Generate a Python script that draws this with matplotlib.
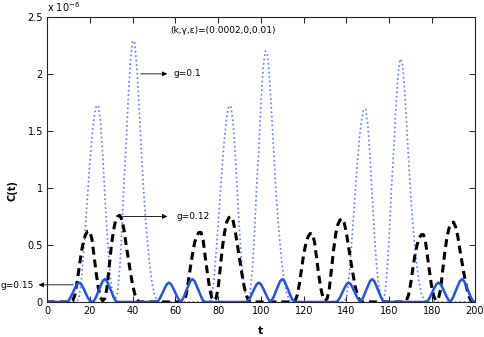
import numpy as np
import matplotlib
matplotlib.use('Agg')
import matplotlib.pyplot as plt

# sample times (t = 0..200, step 1)
t = np.arange(0, 201)

# C(t) in units of 1e-6
c_g010 = [
    0, 0, 0, 0, 0, 0, 0, 0, 0, 0,
    0, 0, 0, 0, 0.00, 0.04, 0.18, 0.42, 0.68, 0.95,
    1.22, 1.45, 1.62, 1.72, 1.72, 1.58, 1.30, 0.95, 0.62, 0.34,
    0.15, 0.05, 0.03, 0.08, 0.30, 0.62, 1.06, 1.40, 1.80, 2.12,
    2.29, 2.27, 2.05, 1.72, 1.36, 1.02, 0.74, 0.52, 0.32, 0.18,
    0.08, 0.03, 0.00, 0, 0, 0, 0, 0, 0, 0,
    0, 0, 0, 0, 0, 0, 0, 0, 0, 0,
    0, 0, 0, 0, 0, 0, 0.00, 0.04, 0.18, 0.42,
    0.68, 0.95, 1.22, 1.45, 1.62, 1.72, 1.71, 1.57, 1.30, 0.95,
    0.62, 0.34, 0.15, 0.05, 0.03, 0.08, 0.29, 0.60, 1.02, 1.34,
    1.73, 2.04, 2.20, 2.18, 1.97, 1.65, 1.31, 0.98, 0.71, 0.50,
    0.31, 0.17, 0.08, 0.03, 0.00, 0, 0, 0, 0, 0,
    0, 0, 0, 0, 0, 0, 0, 0, 0, 0,
    0, 0, 0, 0, 0, 0, 0, 0, 0, 0.00,
    0.04, 0.18, 0.41, 0.67, 0.93, 1.20, 1.43, 1.59, 1.69, 1.69,
    1.55, 1.28, 0.93, 0.61, 0.33, 0.15, 0.05, 0.03, 0.07, 0.28,
    0.58, 0.99, 1.30, 1.67, 1.97, 2.13, 2.11, 1.91, 1.60, 1.26,
    0.95, 0.69, 0.48, 0.30, 0.17, 0.07, 0.03, 0.00, 0, 0,
    0, 0, 0, 0, 0, 0, 0, 0, 0, 0,
    0, 0, 0, 0, 0, 0, 0, 0, 0, 0,
    0,
]

c_g012 = [
    0, 0, 0, 0, 0, 0, 0, 0, 0, 0,
    0, 0.00, 0.01, 0.06, 0.17, 0.30, 0.43, 0.53, 0.59, 0.62,
    0.62, 0.55, 0.40, 0.25, 0.12, 0.04, 0.01, 0.03, 0.12, 0.30,
    0.48, 0.62, 0.71, 0.75, 0.76, 0.72, 0.63, 0.50, 0.38, 0.26,
    0.15, 0.07, 0.02, 0.00, 0, 0, 0, 0, 0, 0,
    0, 0, 0, 0, 0, 0, 0, 0, 0, 0,
    0, 0, 0, 0.00, 0.01, 0.06, 0.17, 0.30, 0.42, 0.52,
    0.58, 0.61, 0.61, 0.54, 0.39, 0.25, 0.12, 0.04, 0.01, 0.03,
    0.12, 0.30, 0.48, 0.61, 0.70, 0.74, 0.75, 0.71, 0.62, 0.50,
    0.38, 0.26, 0.15, 0.07, 0.02, 0.00, 0, 0, 0, 0,
    0, 0, 0, 0, 0, 0, 0, 0, 0, 0,
    0, 0, 0, 0, 0, 0.00, 0.01, 0.06, 0.16, 0.29,
    0.42, 0.51, 0.57, 0.60, 0.60, 0.53, 0.39, 0.24, 0.12, 0.04,
    0.01, 0.03, 0.12, 0.29, 0.46, 0.60, 0.68, 0.72, 0.73, 0.69,
    0.60, 0.48, 0.36, 0.25, 0.14, 0.07, 0.02, 0.00, 0, 0,
    0, 0, 0, 0, 0, 0, 0, 0, 0, 0,
    0, 0, 0, 0, 0, 0, 0, 0.00, 0.01, 0.06,
    0.16, 0.29, 0.41, 0.50, 0.56, 0.59, 0.59, 0.52, 0.38, 0.24,
    0.11, 0.04, 0.01, 0.03, 0.11, 0.28, 0.44, 0.57, 0.65, 0.69,
    0.70, 0.66, 0.58, 0.46, 0.35, 0.24, 0.14, 0.06, 0.02, 0.00,
    0.00,
]

c_g015 = [
    0, 0, 0, 0, 0, 0, 0, 0, 0, 0.00,
    0.01, 0.04, 0.08, 0.12, 0.155, 0.17, 0.155, 0.12, 0.08, 0.04,
    0.01, 0.00, 0.012, 0.047, 0.095, 0.14, 0.183, 0.20, 0.183, 0.14,
    0.095, 0.047, 0.012, 0.00, 0, 0, 0, 0, 0, 0,
    0, 0, 0, 0, 0, 0, 0, 0, 0, 0,
    0, 0.00, 0.01, 0.04, 0.08, 0.12, 0.155, 0.17, 0.155, 0.12,
    0.08, 0.04, 0.01, 0.012, 0.047, 0.095, 0.14, 0.183, 0.20, 0.183,
    0.14, 0.095, 0.047, 0.012, 0.00, 0, 0, 0, 0, 0,
    0, 0, 0, 0, 0, 0, 0, 0, 0, 0,
    0, 0, 0, 0.00, 0.01, 0.04, 0.08, 0.12, 0.155, 0.17,
    0.155, 0.12, 0.08, 0.04, 0.01, 0.012, 0.047, 0.095, 0.14, 0.183,
    0.20, 0.183, 0.14, 0.095, 0.047, 0.012, 0.00, 0, 0, 0,
    0, 0, 0, 0, 0, 0, 0, 0, 0, 0,
    0, 0, 0, 0, 0, 0.00, 0.01, 0.04, 0.08, 0.12,
    0.155, 0.17, 0.155, 0.12, 0.08, 0.04, 0.01, 0.012, 0.047, 0.095,
    0.14, 0.183, 0.20, 0.183, 0.14, 0.095, 0.047, 0.012, 0.00, 0,
    0, 0, 0, 0, 0, 0, 0, 0, 0, 0,
    0, 0, 0, 0, 0, 0, 0, 0.00, 0.01, 0.04,
    0.08, 0.12, 0.155, 0.17, 0.155, 0.12, 0.08, 0.04, 0.01, 0.012,
    0.047, 0.095, 0.14, 0.183, 0.20, 0.183, 0.14, 0.095, 0.047, 0.012,
    0.00,
]

title_text = '(k,\u03b3,\u03b5)=(0.0002,0,0.01)'

fig = plt.figure(figsize=(4.85, 3.37), dpi=100)
ax = fig.add_axes([0.097, 0.104, 0.882, 0.846])

ax.plot(t, c_g010, ':', color='#5a7ef0', lw=1.2)
ax.plot(t, c_g012, '--', color='black', lw=2.2, dashes=(2.6, 1.6))
ax.plot(t, c_g015, '-', color='#2350f2', lw=1.8)

ax.set_xlim(0, 200)
ax.set_ylim(0, 2.5)
ax.set_xticks(np.arange(0, 201, 20))
ax.set_yticks([0, 0.5, 1, 1.5, 2, 2.5])
ax.set_yticklabels(['0', '0.5', '1', '1.5', '2', '2.5'])
ax.tick_params(direction='in', top=True, right=True, labelsize=7,
               length=4, width=0.6, pad=3)
for s in ax.spines.values():
    s.set_linewidth(0.8)
    s.set_color('#222222')

ax.set_xlabel('t', fontsize=8, fontweight='bold')
ax.xaxis.set_label_coords(0.5, -0.085)
ax.set_ylabel('C(t)', fontsize=7, fontweight='bold')
ax.yaxis.set_label_coords(-0.068, 0.39)

ax.text(0.0, 1.01, r'x 10$^{-6}$', transform=ax.transAxes, fontsize=7,
        ha='left', va='bottom')
ax.text(57.5, 2.38, title_text, fontsize=6.5, ha='left', va='center')

# annotation arrows
arrow = dict(arrowstyle='-|>', color='black', lw=0.6, mutation_scale=7)
ax.annotate('', xy=(57.5, 2.0), xytext=(42.5, 2.0), arrowprops=arrow)
ax.text(59.3, 2.0, 'g=0.1', fontsize=6.5, va='center')
ax.annotate('', xy=(57.5, 0.75), xytext=(34.0, 0.75), arrowprops=arrow)
ax.text(60.3, 0.75, 'g=0.12', fontsize=6.5, va='center')
ax.annotate('', xy=(-5.2, 0.15), xytext=(13.6, 0.15), arrowprops=arrow,
            annotation_clip=False)
fig.text(0.001, 1 - 285 / 337, 'g=0.15', fontsize=6.5, va='center',
         ha='left')

fig.savefig('out.png', dpi=100)
